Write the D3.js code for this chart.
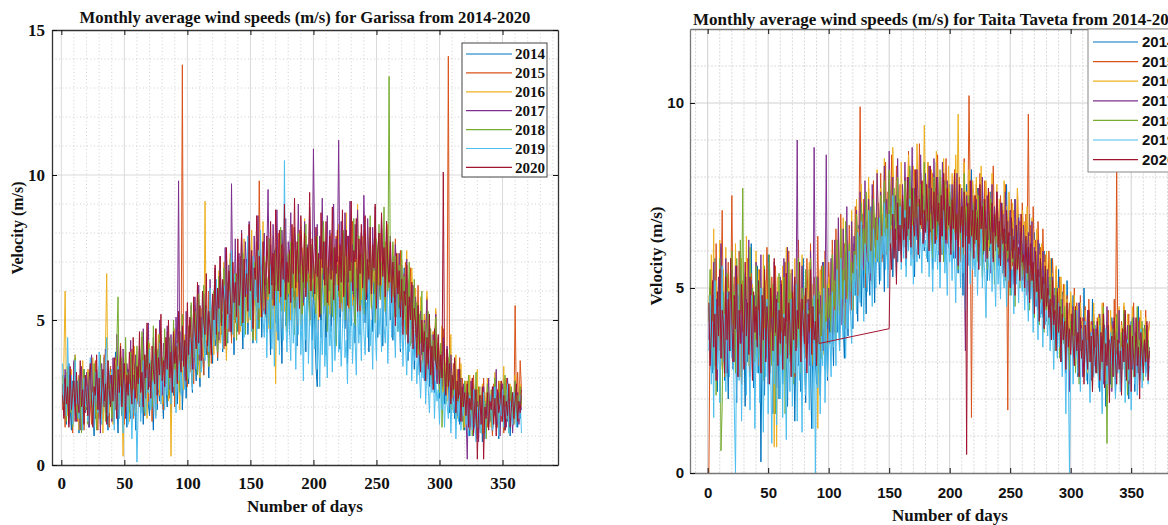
<!DOCTYPE html>
<html><head><meta charset="utf-8">
<script src="https://cdn.jsdelivr.net/npm/d3@7"></script>
<style>body{margin:0;background:#fff;overflow:hidden}</style>
</head><body>
<svg id="c" width="1168" height="525"></svg>
<script>
// ---------- data (daily wind speed, in 0.1 m/s; null = missing day) ----------
const years = ["2014","2015","2016","2017","2018","2019","2020"];
const xTickValues = [0,50,100,150,200,250,300,350];
const garissaYTicks = [0,5,10,15];
const taitaYTicks = [0,5,10];

const garissa2014 = [25,18,31,14,27,35,20,12,29,22,38,17,24,11,30,26,15,33,21,19,
28,13,24,36,19,10,27,32,16,25,14,30,21,37,18,23,12,29,34,20,
15,26,39,22,11,31,24,17,35,20,28,13,33,25,16,38,19,27,12,30,
23,36,18,29,14,33,26,41,21,17,34,24,12,31,38,19,28,22,43,25,
16,35,27,20,40,30,18,37,24,45,29,21,34,26,42,19,31,39,23,36,
28,44,33,25,48,37,29,52,36,27,46,40,31,55,38,43,30,50,42,35,
57,41,49,36,60,45,53,39,62,47,55,42,65,50,44,58,38,63,52,46,
68,48,56,40,64,53,71,45,59,50,67,42,61,55,73,47,58,65,44,60,
52,70,46,63,57,38,66,54,74,49,61,43,68,56,35,62,71,48,59,65,
45,69,53,76,50,62,41,67,58,72,47,64,55,39,70,60,51,75,43,63,
49,34,27,57,66,44,71,52,60,38,68,55,74,46,63,50,69,42,58,65,
40,62,53,73,47,66,35,59,70,48,64,56,42,71,51,67,45,61,54,74,
49,68,57,39,72,60,46,65,53,76,44,63,58,70,41,67,55,48,73,62,
50,66,43,61,56,72,47,59,39,64,52,68,45,57,36,60,49,42,55,33,
51,40,46,31,54,38,44,29,48,36,42,27,45,33,39,25,41,30,35,23,
37,28,33,21,35,26,30,18,32,24,28,16,29,22,26,14,27,19,23,12,
25,17,21,10,24,15,28,13,20,26,11,18,23,8,16,22,12,27,14,19,
24,11,17,28,13,21,9,25,16,19,30,12,22,15,26,10,18,23,14,20,
27,13,21,16,24];
const garissa2015 = [19,27,13,32,22,16,29,24,11,35,20,26,15,31,18,23,28,12,25,30,
17,33,21,14,28,24,36,19,12,27,31,22,16,38,25,20,29,13,34,23,
28,15,37,24,19,32,42,21,27,14,35,26,18,31,23,40,16,29,36,22,
33,20,27,44,25,17,36,30,22,39,28,15,34,26,47,21,31,24,38,29,
19,37,28,46,32,23,41,26,35,20,43,30,38,25,33,138,29,44,36,27,
39,50,32,45,28,53,41,36,57,34,47,40,31,55,44,38,60,49,35,52,
43,61,48,37,56,64,45,52,40,67,50,58,46,63,42,70,54,49,66,57,
45,72,59,51,68,47,63,55,75,52,66,44,61,58,77,50,98,62,69,53,
71,56,64,49,78,60,68,54,73,65,51,80,58,70,62,47,75,66,59,72,
63,52,77,69,57,74,48,66,81,60,71,55,68,79,58,73,64,50,76,67,
59,78,62,70,53,75,66,82,57,69,63,51,77,68,74,56,65,79,61,72,
54,71,80,64,58,76,67,49,73,62,84,57,69,75,60,78,52,70,65,81,
66,57,74,63,79,55,71,68,60,77,50,72,64,82,58,70,53,75,67,61,
73,56,69,62,78,51,67,59,74,48,65,57,70,45,63,54,68,42,60,50,
57,44,62,39,55,48,36,52,43,58,34,49,41,30,46,38,53,28,44,35,
40,26,47,33,24,42,141,31,38,22,35,28,19,33,25,37,17,30,23,27,
16,29,21,12,26,18,31,14,23,9,27,19,24,11,30,16,21,13,25,18,
22,10,28,17,24,13,29,19,15,26,11,23,30,18,14,27,20,25,16,55,
21,32,17,36,26];
const garissa2016 = [22,35,60,26,17,29,21,33,14,27,38,19,25,12,30,23,36,16,28,20,
33,15,26,21,37,18,29,13,24,34,20,27,11,31,40,66,23,18,32,25,
14,29,36,21,27,17,34,24,3,28,39,20,31,15,26,35,22,41,18,30,
25,37,19,32,44,23,28,16,35,42,26,20,38,29,17,33,45,24,30,21,
36,27,43,31,22,39,3,34,28,47,25,37,30,19,41,33,26,45,38,29,
32,48,39,27,52,44,35,58,41,30,54,46,37,91,43,50,34,61,47,56,
38,63,51,45,67,42,58,53,70,48,36,62,55,73,47,59,44,66,52,71,
57,46,69,61,78,53,64,49,74,58,81,55,67,43,72,60,76,51,63,84,
54,70,62,47,75,65,51,79,58,28,66,73,56,81,61,69,53,77,64,59,
74,50,68,82,60,71,56,78,63,48,75,67,85,58,70,62,80,55,72,66,
57,79,65,50,73,61,84,68,55,77,63,71,52,80,66,58,76,69,62,83,
60,72,53,78,67,87,58,74,64,81,55,70,76,61,90,65,73,57,79,68,
75,59,82,66,71,54,78,63,85,69,57,74,80,62,72,56,77,67,83,64,
70,58,76,61,67,52,73,64,56,71,48,66,59,74,53,62,45,68,57,50,
61,42,55,38,58,47,33,52,44,60,37,49,41,28,46,39,54,31,43,36,
34,48,25,40,31,22,37,28,45,19,33,26,38,16,30,24,35,20,27,13,
29,22,15,31,18,26,12,24,20,33,14,23,17,28,11,25,19,30,16,21,
13,27,20,32,16,24,11,29,18,22,34,15,26,19,12,28,21,25,14,31,
18,24,15,28,20];
const garissa2017 = [28,17,33,21,26,14,31,24,19,36,22,15,29,25,12,34,20,27,18,32,
24,13,30,38,19,27,16,33,22,29,11,35,25,20,40,18,28,23,31,15,
37,26,21,45,29,18,33,24,40,27,16,35,30,22,43,25,31,19,38,28,
21,41,32,26,47,30,23,36,49,27,34,20,44,31,25,39,28,50,33,24,
42,35,29,48,37,26,45,32,40,28,51,38,98,31,46,36,41,27,53,34,
46,39,55,43,33,58,47,41,62,36,51,45,59,40,54,48,37,64,50,44,
57,68,49,61,43,72,55,63,48,75,58,52,69,46,97,60,54,78,50,66,
73,56,81,62,51,77,67,59,84,63,70,53,79,65,58,86,61,74,55,68,
80,60,72,95,64,76,57,83,69,62,88,66,73,55,81,70,63,85,59,77,
71,87,65,58,82,74,67,90,61,79,70,56,84,68,76,62,89,72,64,109,
75,66,83,58,79,71,92,64,77,69,86,60,81,73,67,90,62,78,70,112,
65,84,74,60,87,72,79,63,91,68,76,58,83,71,88,64,75,80,66,93,
73,62,85,70,78,59,82,67,89,64,74,80,61,86,69,77,57,84,71,66,
79,63,72,58,76,67,55,73,61,69,52,66,59,71,49,64,56,47,62,51,
58,44,55,40,53,47,36,50,43,57,33,48,39,30,45,37,52,28,42,34,
39,27,44,31,24,41,35,20,38,29,22,36,26,17,33,24,30,15,28,21,
18,2,25,13,29,20,10,26,16,22,8,24,19,14,27,11,21,17,30,15,
23,12,27,19,33,14,25,10,21,28,16,24,13,30,18,22,26,11,20,29,
17,25,14,22,19];
const garissa2018 = [31,20,26,15,34,23,18,29,13,25,37,21,16,30,24,11,28,33,19,26,
14,32,22,27,17,35,20,12,29,24,38,18,26,31,15,23,36,21,28,16,
25,33,19,42,58,21,30,37,16,27,44,23,32,18,39,26,20,35,29,41,
22,34,27,46,31,18,38,25,43,29,36,20,48,33,24,40,30,45,26,37,
32,47,28,39,24,44,35,30,50,27,41,33,46,25,38,52,31,43,36,29,
48,35,56,42,37,53,45,31,59,40,50,44,62,38,55,47,34,57,51,42,
60,46,53,39,65,49,58,44,68,52,41,63,55,71,47,59,50,66,43,62,
54,69,48,73,57,45,66,61,76,50,64,43,70,58,53,74,47,67,60,56,
72,51,65,58,78,47,69,62,55,75,49,68,60,82,53,71,57,64,46,73,
59,77,52,67,45,74,63,80,56,69,50,72,61,83,54,66,48,76,58,70,
64,47,79,57,71,52,68,84,55,73,46,66,60,78,51,75,62,41,69,58,
74,56,67,81,50,72,63,77,53,70,59,85,48,68,61,79,55,73,65,52,
80,58,71,64,86,54,75,66,49,78,62,83,57,70,67,89,53,76,60,134,
68,59,77,51,72,63,46,69,57,74,50,65,43,61,55,70,41,58,48,64,
45,56,38,52,42,60,35,49,44,31,53,40,47,28,43,36,51,33,39,25,
42,13,30,37,21,34,27,40,18,31,24,36,15,28,22,33,19,26,12,29,
23,16,31,19,26,10,24,18,32,13,21,27,11,25,17,22,9,28,20,15,
26,13,21,30,17,24,12,28,19,23,14,31,18,25,11,22,27,16,20,29,
14,24,18,27,21];
const garissa2019 = [35,22,28,17,44,26,19,31,14,24,36,21,29,16,33,25,12,30,20,27,
15,28,37,20,25,13,32,23,18,39,27,14,30,22,35,44,17,26,21,33,
24,12,29,19,34,16,27,21,11,31,18,25,14,28,22,9,26,17,23,1,
20,30,15,27,36,22,17,33,25,40,19,29,23,38,16,31,26,42,21,34,
28,19,37,24,45,30,21,39,27,33,18,42,29,36,24,48,31,26,41,35,
30,44,37,26,51,40,33,56,38,46,32,58,42,36,54,45,39,61,48,41,
55,43,64,50,46,68,53,40,62,57,71,47,60,52,74,45,66,58,49,70,
61,48,76,56,44,67,59,79,51,63,46,72,57,65,42,74,54,81,60,50,
44,62,37,57,48,69,40,55,34,60,46,66,38,53,71,43,105,50,39,58,
47,36,61,42,54,33,58,45,66,38,52,29,57,43,63,35,49,60,31,55,
40,52,33,46,27,50,38,59,34,44,30,55,41,48,32,57,36,45,62,39,
51,34,47,59,37,43,28,54,40,63,35,49,44,31,58,42,53,36,60,46,
38,56,44,65,41,50,33,59,47,36,62,45,54,39,67,48,42,57,35,52,
63,44,58,49,37,61,46,54,40,57,34,50,43,31,47,39,52,29,45,36,
41,28,38,33,23,36,30,42,21,34,27,18,32,25,37,16,29,22,26,14,
30,19,25,13,27,21,16,29,11,23,18,26,9,22,15,24,12,20,17,25,
14,21,10,24,17,12,26,15,8,20,13,23,11,19,25,9,16,22,13,18,
24,12,19,27,15,21,10,23,17,26,13,20,16,28,11,22,18,14,25,19,
13,21,16,24,11];
const garissa2020 = [24,16,30,21,27,13,34,19,25,29,15,32,22,18,36,20,26,14,31,23,
17,29,35,21,13,27,24,38,19,30,16,25,33,22,28,14,36,26,20,31,
22,37,27,16,33,25,41,20,29,35,18,31,24,39,27,21,44,30,23,34,
28,46,25,32,20,38,30,49,26,35,23,41,33,28,47,24,37,31,52,29,
36,27,44,33,50,30,39,25,46,35,41,28,53,37,32,48,34,43,29,56,
38,51,44,33,58,46,40,63,42,55,36,60,49,45,66,41,53,47,38,59,
50,69,45,61,54,72,48,64,57,41,75,52,67,59,46,70,56,63,51,78,
55,62,80,49,71,58,66,53,83,60,74,47,68,64,86,56,72,61,51,77,
65,52,79,68,59,84,62,73,55,88,67,60,81,58,76,64,90,57,70,63,
74,56,83,66,92,61,77,69,54,86,72,63,80,58,75,67,94,60,78,71,
59,82,65,73,51,87,68,77,62,84,56,70,79,64,89,57,75,66,81,60,
76,63,88,58,72,81,55,79,67,91,60,74,70,85,53,78,66,83,61,73,
86,57,71,64,82,59,76,68,90,54,73,80,62,87,65,75,58,84,69,63,
77,56,70,62,48,73,59,67,51,64,45,60,55,69,42,58,50,63,40,54,
49,37,55,43,32,50,39,46,29,44,35,52,31,41,26,47,36,33,45,28,
38,30,101,34,24,40,27,35,21,31,26,37,18,29,23,33,15,27,20,25,
17,28,13,23,19,30,11,21,26,2,18,24,14,27,2,20,16,25,12,22,
19,27,14,23,10,26,18,21,29,15,24,12,22,17,28,13,20,25,16,23,
28,15,22,18,26];

const taita2014 = [45,31,52,27,40,58,34,22,47,36,61,29,43,25,55,38,20,49,33,44,
28,51,37,19,46,32,57,24,41,35,18,53,30,45,26,62,39,23,48,34,
56,27,42,3,37,50,21,44,31,59,25,39,47,16,35,52,28,43,20,38,
49,24,36,57,30,18,45,33,54,26,41,14,37,51,29,46,22,40,58,32,
19,43,35,55,27,12,38,47,30,24,50,36,21,44,33,57,28,41,25,48,
35,52,41,29,57,46,38,63,33,49,55,40,31,60,47,37,58,44,52,39,
62,48,55,41,67,53,45,70,50,59,43,66,56,48,72,54,61,46,69,57,
64,51,73,58,67,49,76,62,55,71,60,80,53,68,63,75,57,70,65,59,
72,61,78,56,69,64,82,59,74,67,53,77,63,70,58,81,66,73,60,76,
68,57,79,64,72,55,75,62,84,66,59,77,70,63,81,58,73,67,61,78,
65,74,58,80,62,69,54,76,67,71,48,73,60,78,56,70,64,82,59,66,
72,61,77,55,68,63,79,57,70,66,52,74,60,76,64,58,71,62,75,56,
69,59,73,54,67,62,78,57,65,71,50,68,61,74,55,64,70,53,66,60,
58,67,52,63,49,70,56,61,46,65,54,59,44,62,51,57,42,60,48,55,
46,53,39,58,44,36,50,47,34,55,41,30,49,38,45,27,52,40,35,43,
37,48,31,44,39,26,46,35,41,29,50,33,38,24,43,36,30,47,32,40,
27,41,35,22,38,30,45,33,18,39,28,36,24,42,31,37,21,34,29,40,
35,24,39,30,43,26,33,20,37,41,28,34,22,38,31,45,25,36,29,32,
40,27,35,30,33];
const taita2015 = [0,42,55,36,48,29,62,39,51,33,45,71,38,26,50,43,57,31,46,75,
40,53,28,47,35,60,44,24,52,38,49,30,58,41,27,54,36,46,32,50,
43,29,55,37,48,25,51,39,61,34,45,27,53,40,33,56,42,30,49,36,
52,38,28,57,44,35,60,41,31,54,46,26,50,39,63,43,34,55,37,48,
31,58,45,36,62,40,29,53,47,38,64,42,33,56,48,39,60,44,35,57,
49,41,63,52,38,66,47,55,43,70,51,45,62,39,58,48,67,53,44,61,
54,72,59,48,66,99,62,56,74,50,68,60,77,55,64,52,79,61,69,58,
73,63,81,57,70,65,84,59,76,68,62,86,66,72,60,83,70,64,78,67,
74,61,80,69,65,87,63,76,71,58,82,68,75,64,89,70,66,79,62,77,
69,84,65,73,60,81,71,77,63,86,67,74,59,80,72,66,85,62,78,70,
63,77,68,82,60,74,66,80,57,71,64,85,61,76,69,102,73,15,67,75,
62,78,70,58,81,66,73,61,79,68,55,76,64,72,59,83,67,62,74,70,
57,75,66,71,53,78,63,17,69,60,74,56,71,65,52,77,62,68,58,73,
64,55,70,61,97,56,67,50,72,59,63,48,68,57,61,45,66,54,59,51,
47,60,52,43,58,49,40,55,45,38,53,44,36,51,42,35,48,39,46,33,
44,37,50,32,46,40,29,48,35,42,27,45,38,31,47,34,41,26,43,36,
30,42,35,25,39,33,46,28,37,31,44,24,36,40,29,47,34,83,32,38,
28,41,34,45,26,37,31,43,25,38,33,46,29,36,40,27,42,35,30,39,
33,44,28,37,41];
const taita2016 = [48,35,59,41,66,30,52,44,37,63,46,28,55,39,61,33,50,42,57,36,
47,38,62,31,53,45,26,58,40,49,34,64,43,29,56,37,51,46,32,60,
41,55,35,48,27,59,39,52,44,33,57,42,30,50,7,46,7,53,38,47,
34,56,43,29,61,37,49,32,55,45,28,58,40,35,52,47,31,59,42,38,
54,33,46,57,39,30,51,44,36,48,12,42,55,37,50,32,58,45,40,53,
44,57,48,39,62,52,45,66,49,56,41,69,53,47,63,50,58,46,71,55,
61,50,74,57,66,53,78,60,55,72,63,58,80,65,59,75,62,70,57,82,
68,60,77,72,64,85,67,74,61,81,70,66,88,73,63,79,69,76,65,84,
71,63,80,74,68,86,70,77,65,83,72,67,89,75,69,81,73,66,94,78,
70,84,75,66,82,72,79,64,87,74,68,80,76,63,85,71,78,67,83,73,
69,81,74,65,86,71,97,68,78,73,63,84,70,76,67,82,72,61,79,75,
66,80,71,77,62,83,69,74,64,79,70,58,76,68,81,63,72,67,78,60,
74,65,70,57,79,66,72,61,76,68,55,73,64,69,59,77,63,67,56,71,
62,68,54,72,60,64,51,69,57,63,49,66,55,59,46,62,53,57,44,60,
52,45,58,41,54,48,38,56,43,50,35,53,46,40,51,37,47,42,33,49,
43,36,48,31,45,39,28,46,34,41,30,44,37,27,42,35,40,29,46,33,
38,27,43,34,30,46,32,37,25,41,35,29,44,31,39,26,42,36,30,45,
33,40,28,46,35,31,43,26,38,34,45,30,37,27,41,36,32,44,29,39,
34,42,30,37,40];
const taita2017 = [36,50,28,44,57,33,47,25,53,39,62,31,45,37,58,27,49,41,34,55,
42,30,56,38,48,26,60,35,44,51,29,47,39,63,33,52,28,46,40,57,
31,48,37,59,27,43,51,34,46,24,55,38,42,30,57,45,23,49,36,53,
40,28,58,44,35,61,32,47,39,55,26,50,43,90,37,46,30,56,41,34,
52,38,47,29,60,42,35,88,44,31,53,40,48,36,57,33,45,86,39,50,
42,58,47,36,63,51,44,69,48,55,40,66,52,46,72,49,57,43,68,54,
64,50,71,58,53,76,61,67,55,79,62,57,74,65,52,78,60,69,63,81,
70,58,76,66,61,83,69,74,64,87,71,67,80,62,75,68,85,65,73,60,
78,66,84,71,63,80,74,68,88,70,77,64,82,72,67,86,69,75,62,81,
73,65,83,70,77,61,85,72,68,80,66,76,63,84,71,74,59,79,67,75,
62,78,69,73,58,81,66,71,63,77,68,56,33,75,64,70,60,79,67,72,
65,74,59,77,68,62,80,66,71,57,75,63,69,54,78,65,72,60,76,67,
58,73,64,70,55,76,62,68,53,71,60,66,51,74,63,57,69,59,65,52,
67,56,62,48,65,58,53,68,50,61,55,45,63,52,57,43,60,49,54,41,
55,46,51,38,53,43,48,35,50,40,45,32,47,38,42,29,44,36,22,41,
37,45,31,43,36,28,46,33,40,26,42,35,30,44,32,38,25,41,34,29,
39,31,26,43,34,37,24,40,30,45,28,36,33,22,41,35,27,38,31,44,
26,37,32,43,28,35,40,24,38,33,29,42,31,36,27,41,34,30,39,28,
36,31,40,27,34];
const taita2018 = [41,55,33,47,28,52,21,44,36,58,6,18,49,38,26,54,42,31,47,60,
35,49,27,58,40,32,63,44,77,37,53,29,46,39,61,34,50,42,30,56,
43,31,52,38,47,25,56,36,44,33,59,40,29,51,45,16,48,37,54,32,
46,28,53,16,41,35,57,30,49,38,24,52,43,34,58,39,27,50,45,36,
55,32,44,38,58,29,47,41,35,53,27,49,43,31,56,39,46,34,51,42,
48,38,59,45,52,36,63,50,43,66,47,55,40,68,53,46,62,49,57,44,
60,52,70,56,64,49,73,59,66,54,76,61,57,71,63,51,74,67,58,69,
65,57,75,68,62,79,64,70,58,82,66,72,61,77,69,63,80,67,74,60,
72,64,79,68,74,60,83,70,66,77,62,81,69,73,59,78,71,65,84,67,
70,61,77,66,73,58,80,68,64,75,60,82,69,72,57,79,65,71,63,76,
67,74,60,78,65,70,55,76,63,69,58,81,66,72,61,75,64,68,56,73,
62,71,57,75,64,68,53,73,60,66,55,70,61,74,58,65,51,69,63,59,
67,56,72,60,65,52,70,58,63,48,68,57,61,45,66,54,59,50,64,53,
58,49,63,52,56,44,61,50,54,42,59,47,53,40,57,46,51,38,55,44,
48,40,53,36,46,42,33,50,38,44,31,47,39,35,45,30,43,37,28,41,
39,32,44,27,38,35,24,42,31,36,26,40,33,29,43,30,37,22,41,34,
30,38,25,42,33,28,45,31,36,8,40,29,34,23,39,32,27,43,30,35,
24,38,32,44,27,35,21,40,33,29,42,26,37,31,45,28,36,30,41,25,
34,39,29,36,31];
const taita2019 = [33,48,24,41,15,52,37,28,45,19,39,56,30,43,22,49,35,26,47,31,
40,18,0,36,51,25,43,14,38,30,54,21,45,33,17,48,28,41,12,36,
27,44,19,50,33,11,39,26,47,16,35,29,8,42,24,37,13,46,31,20,
38,15,43,28,9,41,32,22,47,18,36,27,51,14,40,25,34,11,44,30,
21,46,33,17,39,28,12,48,0,35,23,43,16,37,29,50,19,41,26,34,
38,26,49,34,44,29,55,40,33,58,42,36,52,31,47,39,60,44,35,54,
48,59,43,65,51,46,68,53,41,62,56,49,71,54,60,45,66,58,50,63,
57,69,52,64,59,73,55,66,50,70,61,56,75,58,63,53,68,60,72,55,
66,58,71,53,64,60,74,56,67,51,69,62,57,72,59,65,54,70,61,63,
58,68,53,65,61,49,70,57,63,55,67,50,64,59,71,54,62,48,66,57,
63,52,68,58,46,65,56,61,50,67,54,59,44,64,57,62,51,66,55,60,
53,64,48,61,56,66,50,59,54,42,63,57,52,65,49,60,55,45,62,51,
58,47,63,54,50,61,45,57,52,64,48,55,43,60,51,56,46,59,53,49,
55,44,58,50,41,56,47,52,38,54,45,49,36,53,42,47,34,51,40,44,
37,48,33,45,39,28,43,36,31,46,34,40,26,42,35,16,38,30,0,33,
40,24,37,31,44,27,35,22,39,32,28,41,25,36,30,19,38,33,26,34,
29,37,23,40,31,16,35,28,39,24,33,21,38,30,26,36,20,32,27,35,
22,34,28,38,19,31,36,25,33,17,37,29,24,35,21,32,27,39,23,30,
33,26,31,24,29];
const taita2020 = [46,29,38,52,34,43,25,49,37,55,31,44,40,27,53,36,47,33,58,41,
30,48,39,56,26,44,35,51,42,28,57,37,46,32,53,40,25,49,38,45,
34,52,41,27,48,36,55,30,45,39,24,50,43,33,58,38,47,29,44,35,
51,28,42,37,54,31,46,40,26,49,36,53,33,44,39,57,30,47,41,35,
50,27,43,38,55,32,45,36,41,29,47,35,null,null,null,null,null,null,null,null,
null,null,null,null,null,null,null,null,null,null,null,null,null,null,null,null,null,null,null,null,
null,null,null,null,null,null,null,null,null,null,null,null,null,null,null,null,null,null,null,null,
null,null,null,null,null,null,null,null,null,39,62,55,70,58,66,51,73,60,67,57,
75,63,69,58,80,66,72,61,77,68,64,82,70,59,74,67,79,62,71,65,
78,69,60,83,71,66,76,62,80,68,73,57,75,64,81,70,63,77,67,72,
59,74,66,81,63,70,56,78,65,72,61,76,68,5,73,62,79,64,71,58,
75,63,69,55,78,66,72,60,74,65,58,77,67,62,73,57,70,64,76,61,
68,56,73,62,66,53,71,60,65,50,69,58,63,48,67,55,61,52,70,57,
59,50,64,54,61,46,62,52,57,43,60,49,55,41,58,47,53,39,56,45,
50,42,47,36,52,40,44,33,49,38,45,30,43,36,41,28,46,34,39,32,
43,35,29,45,33,38,26,42,31,36,24,40,34,28,44,30,37,22,39,32,
27,41,33,25,38,30,43,23,35,29,40,19,34,37,26,42,31,24,36,28,
33,21,39,30,44,25,35,28,40,22,37,31,26,42,29,34,20,38,32,27,
36,30,41,25,33];

const garissaSeries = [garissa2014,garissa2015,garissa2016,garissa2017,garissa2018,garissa2019,garissa2020];
const taitaSeries = [taita2014,taita2015,taita2016,taita2017,taita2018,taita2019,taita2020];

// ---------- drawing ----------
const colors = ["#0072BD","#D95319","#EDB120","#7E2F8E","#77AC30","#4DBEEE","#A2142F"];
const svg = d3.select("#c");
svg.append("rect").attr("width",1168).attr("height",525).attr("fill","#fff");

function panel(cfg){
  const x = d3.scaleLinear().domain(cfg.xDomain).range(cfg.xRange);
  const y = d3.scaleLinear().domain(cfg.yDomain).range(cfg.yRange);
  const [x0,x1] = cfg.xRange, [y0,y1] = cfg.yRange;
  const g = svg.append("g");
  // minor grid
  const xMinor = d3.range(Math.ceil(cfg.xDomain[0]/10)*10, cfg.xDomain[1], 10).filter(d=>d%50!==0);
  const yMinor = d3.range(cfg.yDomain[0]+1, cfg.yDomain[1], 1).filter(d=>d%5!==0);
  g.selectAll(null).data(xMinor).join("line")
    .attr("x1",d=>x(d)).attr("x2",d=>x(d)).attr("y1",y0).attr("y2",y1)
    .attr("stroke",cfg.minorColor).attr("stroke-width",0.8).attr("stroke-dasharray",cfg.minorDash);
  g.selectAll(null).data(yMinor).join("line")
    .attr("y1",d=>y(d)).attr("y2",d=>y(d)).attr("x1",x0).attr("x2",x1)
    .attr("stroke",cfg.minorColor).attr("stroke-width",0.8).attr("stroke-dasharray",cfg.minorDash);
  // major grid
  const xMajor = d3.range(0, cfg.xDomain[1], 50);
  g.selectAll(null).data(xMajor).join("line")
    .attr("x1",d=>x(d)).attr("x2",d=>x(d)).attr("y1",y0).attr("y2",y1)
    .attr("stroke",cfg.majorColor).attr("stroke-width",1);
  g.selectAll(null).data(cfg.yTicks.filter(d=>d>0 && d<cfg.yDomain[1])).join("line")
    .attr("y1",d=>y(d)).attr("y2",d=>y(d)).attr("x1",x0).attr("x2",x1)
    .attr("stroke",cfg.majorColor).attr("stroke-width",1);

  // data lines
  svg.append("clipPath").attr("id",cfg.id).append("rect")
    .attr("x",x0).attr("y",y1).attr("width",x1-x0).attr("height",y0-y1);
  const line = d3.line().x(d=>x(d.day)).y(d=>y(d.v/10));
  const lg = svg.append("g").attr("clip-path",`url(#${cfg.id})`);
  cfg.series.forEach((vals,k)=>{
    const pts = vals.map((v,i)=>({day:i+1, v})).filter(d=>d.v!==null);
    lg.append("path").datum(pts).attr("d",line)
      .attr("fill","none").attr("stroke",colors[k]).attr("stroke-width",1)
      .attr("stroke-linejoin","round");
  });

  // axes (ticks inside)
  const styleAxis = (sel)=>{
    sel.select(".domain").attr("stroke",cfg.axisColor).attr("stroke-width",cfg.axisWidth);
    sel.selectAll(".tick line").attr("stroke","#111").attr("stroke-width",1);
    sel.selectAll("text").attr("fill","#111").attr("font-family",cfg.tickFont)
      .attr("font-weight","bold").attr("font-size",cfg.tickSize);
  };
  svg.append("g").attr("transform",`translate(0,${y0})`)
    .call(d3.axisBottom(x).tickValues(xTickValues).tickSizeInner(-5).tickSizeOuter(0).tickPadding(cfg.xPad))
    .call(styleAxis);
  svg.append("g").attr("transform",`translate(0,${y1})`)
    .call(d3.axisTop(x).tickValues(xTickValues).tickSizeInner(-5).tickSizeOuter(0).tickFormat(""))
    .call(styleAxis);
  svg.append("g").attr("transform",`translate(${x0},0)`)
    .call(d3.axisLeft(y).tickValues(cfg.yTicks).tickSizeInner(-5).tickSizeOuter(0).tickPadding(cfg.yPad))
    .call(styleAxis);
  svg.append("g").attr("transform",`translate(${x1},0)`)
    .call(d3.axisRight(y).tickValues(cfg.yTicks).tickSizeInner(-5).tickSizeOuter(0).tickFormat(""))
    .call(styleAxis);

  // titles
  svg.append("text").attr("x",cfg.titleX).attr("y",cfg.titleY).attr("text-anchor",cfg.titleAnchor)
    .attr("font-family","Liberation Serif, Times New Roman, serif").attr("font-weight","bold")
    .attr("font-size",cfg.titleSize).attr("fill","#111").text(cfg.title);
  svg.append("text").attr("x",cfg.xLabelX).attr("y",cfg.xLabelY).attr("text-anchor","middle")
    .attr("font-family","Liberation Serif, Times New Roman, serif").attr("font-weight","bold")
    .attr("font-size",cfg.labelSize).attr("fill","#111").text("Number of days");
  svg.append("text").attr("transform",`translate(${cfg.yLabelX},${cfg.yLabelY}) rotate(-90)`)
    .attr("text-anchor","middle")
    .attr("font-family","Liberation Serif, Times New Roman, serif").attr("font-weight","bold")
    .attr("font-size",cfg.yLabelSize).attr("fill","#111").text("Velocity (m/s)");

  // legend
  const L = cfg.legend;
  const leg = svg.append("g");
  leg.append("rect").attr("x",L.x).attr("y",L.y).attr("width",L.w).attr("height",L.h)
    .attr("fill","#fff").attr("stroke",L.stroke).attr("stroke-width",1);
  years.forEach((yr,k)=>{
    const yy = L.y + L.first + k*L.step;
    leg.append("line").attr("x1",L.lx1).attr("x2",L.lx2).attr("y1",yy).attr("y2",yy)
      .attr("stroke",colors[k]).attr("stroke-width",1.2);
    leg.append("text").attr("x",L.tx).attr("y",yy).attr("dy","0.35em")
      .attr("font-family",L.font).attr("font-weight","bold").attr("font-size",L.size)
      .attr("fill","#111").text(yr);
  });
}

panel({
  id:"clipG", series:garissaSeries,
  xDomain:[-7.4,394], xRange:[52,558], yDomain:[0,15], yRange:[465,30], yTicks:garissaYTicks,
  minorColor:"#c4c4c4", minorDash:"1,2.5", majorColor:"#dadada",
  axisColor:"#333", axisWidth:1.3,
  tickFont:"Liberation Serif, Times New Roman, serif", tickSize:17, xPad:12, yPad:7,
  title:"Monthly average wind speeds (m/s) for Garissa from 2014-2020",
  titleX:305, titleY:23, titleAnchor:"middle", titleSize:16.7,
  xLabelX:305, xLabelY:512, yLabelX:23, yLabelY:228, labelSize:17, yLabelSize:16,
  legend:{x:462,y:43,w:85,h:134,stroke:"#444",first:11,step:18.9,lx1:466,lx2:512,tx:515,
    font:"Liberation Serif, Times New Roman, serif",size:15}
});
panel({
  id:"clipT", series:taitaSeries,
  xDomain:[-14.6,400], xRange:[690,1191.7], yDomain:[0,12], yRange:[473,29], yTicks:taitaYTicks,
  minorColor:"#d2d2d2", minorDash:"2,1.5", majorColor:"#d0d0d0",
  axisColor:"#777", axisWidth:1.3,
  tickFont:"Liberation Sans, Arial, sans-serif", tickSize:15, xPad:14, yPad:6,
  title:"Monthly average wind speeds (m/s) for Taita Taveta from 2014-2020",
  titleX:693, titleY:25, titleAnchor:"start", titleSize:17,
  xLabelX:950, xLabelY:521, yLabelX:662, yLabelY:256, labelSize:17, yLabelSize:17,
  legend:{x:1088,y:29,w:100,h:143,stroke:"#888",first:13,step:19.6,lx1:1093,lx2:1138,tx:1142,
    font:"Liberation Sans, Arial, sans-serif",size:15}
});
</script>
</body></html>
